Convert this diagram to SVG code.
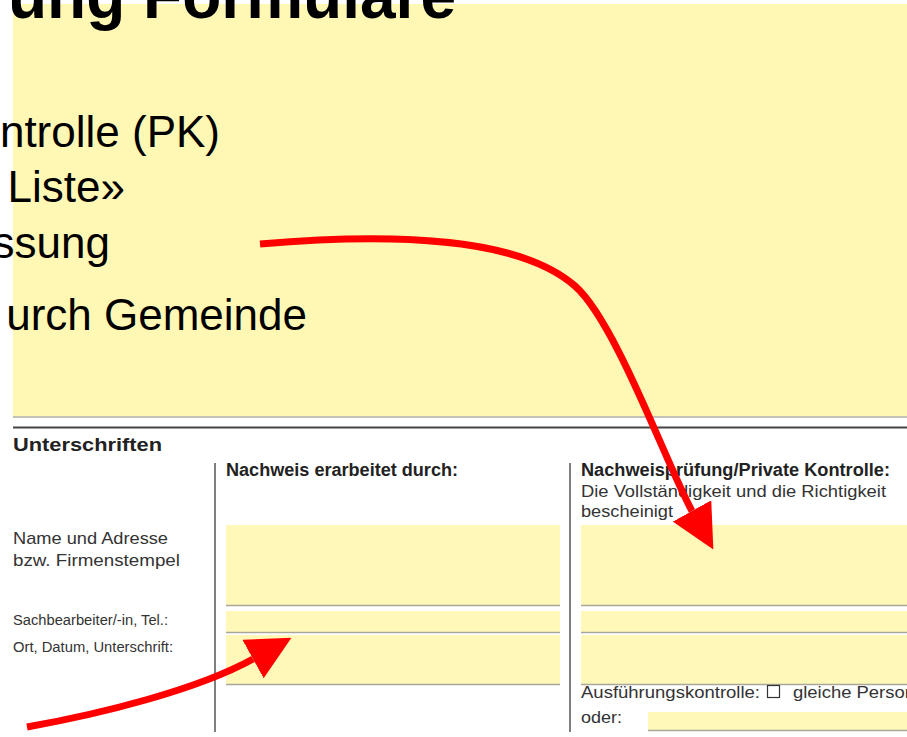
<svg xmlns="http://www.w3.org/2000/svg" width="907" height="737" viewBox="0 0 907 737">
<style>
.big{font-family:"Liberation Sans",Arial,sans-serif;font-size:44px;fill:#000}
.title{font-family:"Liberation Sans",Arial,sans-serif;font-size:64px;font-weight:bold;fill:#000}
.f{font-family:"Liberation Sans",Arial,sans-serif;font-size:17px;fill:#333}
.fs{font-family:"Liberation Sans",Arial,sans-serif;font-size:14px;fill:#333}
.fb{font-family:"Liberation Sans",Arial,sans-serif;font-size:17.5px;font-weight:bold;fill:#222}
.field{fill:#fff8b8}
.uline{stroke:#a9a79a;stroke-width:1.6}
.vline{stroke:#555;stroke-width:1.5}
.arrow{fill:none;stroke:#ff0000;stroke-width:7}
</style>
<defs>
<marker id="head" viewBox="0 0 44 44" refX="0" refY="22" markerWidth="44" markerHeight="44" markerUnits="userSpaceOnUse" orient="auto">
<path d="M0,0 L44,22 L0,44 z" fill="#ff0000"/>
</marker>
</defs>
<rect width="907" height="737" fill="#fff"/>

<g id="slide">
<rect x="13" y="4" width="894" height="412" fill="#fff8b5"/>
<line x1="13" y1="417" x2="907" y2="417" stroke="#b0ae9f" stroke-width="1.5"/>
<text class="title" x="456" y="18" text-anchor="end">ung Formulare</text>
<text class="big" x="220" y="147" text-anchor="end">ntrolle (PK)</text>
<text class="big" x="125" y="202" text-anchor="end">Liste»</text>
<text class="big" x="110" y="258" text-anchor="end">ssung</text>
<text class="big" x="307" y="330" text-anchor="end">urch Gemeinde</text>
</g>

<g id="form">
<line x1="13" y1="427.5" x2="907" y2="427.5" stroke="#444" stroke-width="2.2"/>
<text class="fb" x="13" y="451" font-size="22" textLength="149" lengthAdjust="spacingAndGlyphs">Unterschriften</text>
<line class="vline" x1="215" y1="463" x2="215" y2="732"/>
<line class="vline" x1="570" y1="463" x2="570" y2="732"/>
</g>

<g id="labels">
<text class="f" x="13" y="544" textLength="155" lengthAdjust="spacingAndGlyphs">Name und Adresse</text>
<text class="f" x="13" y="566" textLength="167" lengthAdjust="spacingAndGlyphs">bzw. Firmenstempel</text>
<text class="fs" x="13" y="625" textLength="155" lengthAdjust="spacingAndGlyphs">Sachbearbeiter/-in, Tel.:</text>
<text class="fs" x="13" y="652" textLength="160" lengthAdjust="spacingAndGlyphs">Ort, Datum, Unterschrift:</text>
</g>

<g id="col-nachweis">
<text class="fb" x="226" y="476" textLength="232" lengthAdjust="spacingAndGlyphs">Nachweis erarbeitet durch:</text>
<rect class="field" x="226" y="525" width="334" height="80"/>
<line class="uline" x1="226" y1="605.5" x2="560" y2="605.5"/>
<rect class="field" x="226" y="611" width="334" height="21"/>
<line class="uline" x1="226" y1="632.5" x2="560" y2="632.5"/>
<rect class="field" x="226" y="635" width="334" height="49"/>
<line class="uline" x1="226" y1="684.5" x2="560" y2="684.5"/>
</g>

<g id="col-pruefung">
<text class="fb" x="581" y="476" textLength="309" lengthAdjust="spacingAndGlyphs">Nachweisprüfung/Private Kontrolle:</text>
<text class="f" x="581" y="497" textLength="305" lengthAdjust="spacingAndGlyphs">Die Vollständigkeit und die Richtigkeit</text>
<text class="f" x="581" y="517" textLength="92" lengthAdjust="spacingAndGlyphs">bescheinigt</text>
<rect class="field" x="581" y="525" width="326" height="80"/>
<line class="uline" x1="581" y1="605.5" x2="907" y2="605.5"/>
<rect class="field" x="581" y="611" width="326" height="21"/>
<line class="uline" x1="581" y1="632.5" x2="907" y2="632.5"/>
<rect class="field" x="581" y="635" width="326" height="49"/>
<line class="uline" x1="581" y1="684.5" x2="907" y2="684.5"/>
<text class="f" x="581" y="698" textLength="179" lengthAdjust="spacingAndGlyphs">Ausführungskontrolle:</text>
<rect x="767.5" y="685.5" width="12" height="12" fill="#fff" stroke="#333" stroke-width="1.2"/>
<text class="f" x="793" y="698" textLength="122" lengthAdjust="spacingAndGlyphs">gleiche Person</text>
<text class="f" x="581" y="723" textLength="41" lengthAdjust="spacingAndGlyphs">oder:</text>
<rect class="field" x="648" y="712" width="259" height="18"/>
<line class="uline" x1="648" y1="730.5" x2="907" y2="730.5"/>
</g>

<g id="connectors">
<path class="arrow" d="M260,244 C400,232 520,238 575,286 C616,322 667,466 692,511" marker-end="url(#head)"/>
<path class="arrow" d="M27,727 C100,714 197,690 253,659" marker-end="url(#head)"/>
</g>
</svg>
